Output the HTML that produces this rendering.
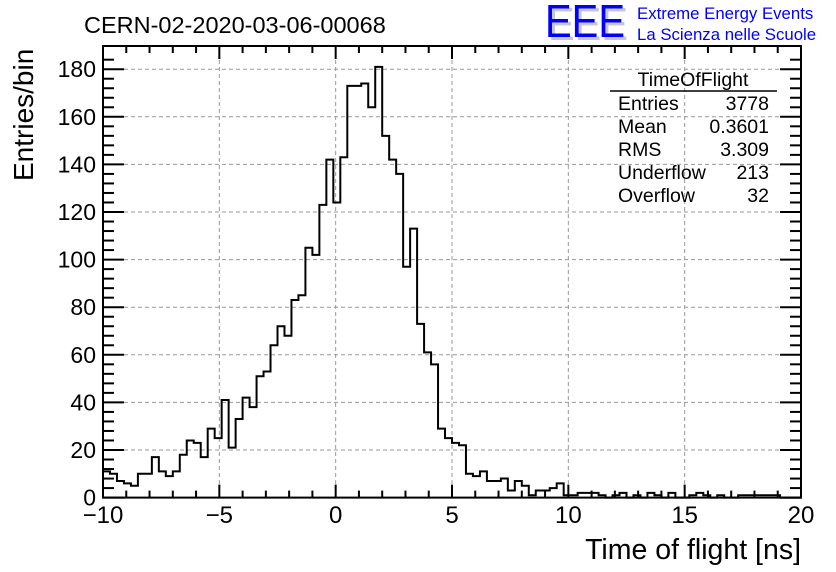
<!DOCTYPE html>
<html><head><meta charset="utf-8"><style>
html,body{margin:0;padding:0;background:#fff;}
svg{display:block;font-family:"Liberation Sans",sans-serif;}
</style></head><body>
<svg id="c" width="836" height="572" viewBox="0 0 836 572">
<text x="84" y="33" font-size="23.5">CERN-02-2020-03-06-00068</text>
<g>
<text x="548" y="40" font-size="46" fill="#c8c8c8" textLength="80" lengthAdjust="spacingAndGlyphs">EEE</text>
<text x="545" y="37" font-size="46" fill="#0000ff" textLength="80" lengthAdjust="spacingAndGlyphs">EEE</text>
<text x="637" y="19" font-size="16.8" fill="#0000ff">Extreme Energy Events</text>
<text x="637" y="40" font-size="16.8" fill="#0000ff">La Scienza nelle Scuole</text>
</g>
<text x="801" y="559" font-size="28.5" text-anchor="end">Time of flight [ns]</text>
<text transform="translate(33,181) rotate(-90)" font-size="28">Entries/bin</text>
<g id="plot"></g>
<g font-size="19.5">
<text x="693" y="86" text-anchor="middle">TimeOfFlight</text>
<line x1="610" y1="91" x2="777" y2="91" stroke="#000" stroke-width="1.5"/>
<text x="618" y="110">Entries</text><text x="769" y="110" text-anchor="end">3778</text>
<text x="618" y="133">Mean</text><text x="769" y="133" text-anchor="end">0.3601</text>
<text x="618" y="156">RMS</text><text x="769" y="156" text-anchor="end">3.309</text>
<text x="618" y="179">Underflow</text><text x="769" y="179" text-anchor="end">213</text>
<text x="618" y="202">Overflow</text><text x="769" y="202" text-anchor="end">32</text>
</g>
</svg>
<script>
const xMin = -10, xMax = 20;
const binWidth = 0.3;
const counts = [11,10,7,6,5,10,10,17,11,9,11,18,24,23,17,29,25,41,21,33,42,38,51,53,64,72,68,83,85,105,102,123,142,124,143,173,173,174,164,181,152,142,136,97,113,73,61,56,29,25,23,22,10,9,11,7,7,8,3,7,5,1,3,3,4,6,1,1,2,2,2,1,0,1,2,0,1,0,2,1,0,2,0,0,1,2,1,0,1,0,0,1,1,1,1,1,1,0,0,0];
const yTicks = [0,20,40,60,80,100,120,140,160,180];
const xTicks = [-10,-5,0,5,10,15,20];
const L=103,R=801,T=46,B=497.6, yPer=2.38;
const sx = v => L + (v - xMin) / (xMax - xMin) * (R - L);
const sy = v => B - v * yPer;
const NS="http://www.w3.org/2000/svg";
const g=document.getElementById('plot');
function mk(t,a){const e=document.createElementNS(NS,t);for(const k in a)e.setAttribute(k,a[k]);g.appendChild(e);return e;}
xTicks.forEach(v=>{ if(v>xMin&&v<xMax){const e=mk('line',{x1:sx(v),x2:sx(v),y1:T,y2:B,stroke:'#999','stroke-dasharray':'4,3'});

}});
yTicks.forEach(v=>{ if(v>0){const e=mk('line',{x1:L,x2:R,y1:sy(v),y2:sy(v),stroke:'#999','stroke-dasharray':'4,3'});

}});
let d='M'+sx(xMin)+','+sy(0);
counts.forEach((c,i)=>{const x0=sx(xMin+i*binWidth),x1=sx(xMin+(i+1)*binWidth);d+=' L'+x0+','+sy(c)+' L'+x1+','+sy(c);});
d+=' L'+sx(xMax)+','+sy(0);
const h=mk('path',{d:d,fill:'none',stroke:'#000','stroke-width':2});


const f=mk('rect',{x:L,y:T,width:R-L,height:B-T,fill:'none',stroke:'#000','stroke-width':2});


for(let v=xMin;v<=xMax;v+=1){const maj=v%5===0;const len=maj?13:7;
mk('line',{x1:sx(v),x2:sx(v),y1:B,y2:B-len,stroke:'#000','stroke-width':2});
mk('line',{x1:sx(v),x2:sx(v),y1:T,y2:T+len,stroke:'#000','stroke-width':2});}
xTicks.forEach(v=>{const t=mk('text',{x:sx(v),y:523,'font-size':24,'text-anchor':'middle'});t.textContent=v<0?'\u2212'+(-v):String(v);

});
for(let v=0;v<=184;v+=4){const maj=v%20===0;const len=maj?21:11;
mk('line',{x1:L,x2:L+len,y1:sy(v),y2:sy(v),stroke:'#000','stroke-width':2});
mk('line',{x1:R,x2:R-len,y1:sy(v),y2:sy(v),stroke:'#000','stroke-width':2});}
yTicks.forEach(v=>{const t=mk('text',{x:L-7,y:sy(v)+8,'font-size':23,'text-anchor':'end'});t.textContent=String(v);

});
</script>
</body></html>
